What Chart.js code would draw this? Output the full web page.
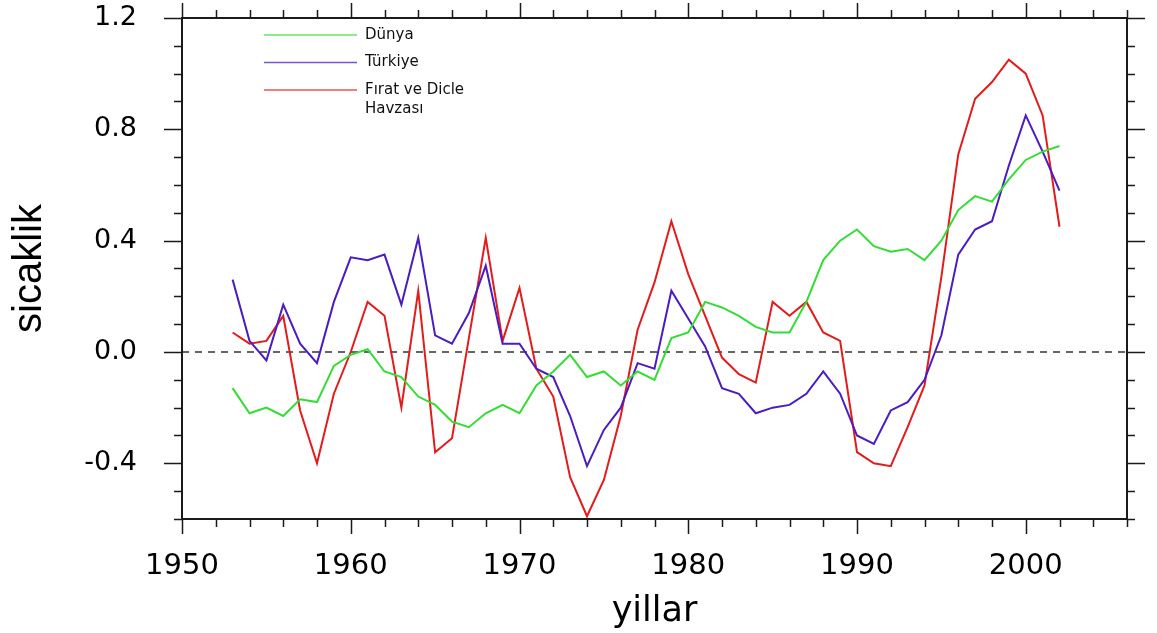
<!DOCTYPE html>
<html lang="tr">
<head>
<meta charset="utf-8">
<title>sicaklik / yillar</title>
<script src="https://cdn.jsdelivr.net/npm/chart.js@4.4.1/dist/chart.umd.min.js"></script>
<style>
  html, body { margin: 0; padding: 0; background: #fff; }
  #chart-wrap { position: relative; width: 1157px; height: 633px; }
</style>
</head>
<body>
<div id="chart-wrap"><canvas id="temp-chart"></canvas></div>
<script>
// Years on the x axis
const years = [
  1953, 1954, 1955, 1956, 1957, 1958, 1959, 1960, 1961, 1962,
  1963, 1964, 1965, 1966, 1967, 1968, 1969, 1970, 1971, 1972,
  1973, 1974, 1975, 1976, 1977, 1978, 1979, 1980, 1981, 1982,
  1983, 1984, 1985, 1986, 1987, 1988, 1989, 1990, 1991, 1992,
  1993, 1994, 1995, 1996, 1997, 1998, 1999, 2000, 2001, 2002
];

// Temperature anomalies
const dunya = [
  -0.13, -0.22, -0.20, -0.23, -0.17, -0.18, -0.05, -0.01, 0.01, -0.07,
  -0.09, -0.16, -0.19, -0.25, -0.27, -0.22, -0.19, -0.22, -0.12, -0.07,
  -0.01, -0.09, -0.07, -0.12, -0.07, -0.10, 0.05, 0.07, 0.18, 0.16,
  0.13, 0.09, 0.07, 0.07, 0.18, 0.33, 0.40, 0.44, 0.38, 0.36,
  0.37, 0.33, 0.40, 0.51, 0.56, 0.54, 0.62, 0.69, 0.72, 0.74
];
const turkiye = [
  0.26, 0.04, -0.03, 0.17, 0.03, -0.04, 0.18, 0.34, 0.33, 0.35,
  0.17, 0.41, 0.06, 0.03, 0.14, 0.31, 0.03, 0.03, -0.06, -0.09,
  -0.23, -0.41, -0.28, -0.20, -0.04, -0.06, 0.22, 0.12, 0.02, -0.13,
  -0.15, -0.22, -0.20, -0.19, -0.15, -0.07, -0.15, -0.30, -0.33, -0.21,
  -0.18, -0.10, 0.06, 0.35, 0.44, 0.47, 0.67, 0.85, 0.72, 0.58
];
const firatDicle = [
  0.07, 0.03, 0.04, 0.13, -0.21, -0.40, -0.15, 0.00, 0.18, 0.13,
  -0.20, 0.22, -0.36, -0.31, 0.05, 0.41, 0.04, 0.23, -0.06, -0.16,
  -0.45, -0.59, -0.46, -0.23, 0.08, 0.25, 0.47, 0.28, 0.13, -0.02,
  -0.08, -0.11, 0.18, 0.13, 0.18, 0.07, 0.04, -0.36, -0.40, -0.41,
  -0.27, -0.12, 0.27, 0.71, 0.91, 0.97, 1.05, 1.00, 0.85, 0.45
];

const seriesNames = ['Dünya', 'Türkiye', ['Fırat ve Dicle', 'Havzası']];
const seriesColors = ['#33dd33', '#4a1cc2', '#e41b1b'];

// Axis ranges and tick labels
const xRange = [1950, 2006];
const yRange = [-0.6, 1.2];
const xTickValues = [1950, 1960, 1970, 1980, 1990, 2000];
const yTickValues = [-0.4, 0.0, 0.4, 0.8, 1.2];
const xMinorStep = 2;
const yMinorStep = 0.1;

const MAJOR_TICK = 15;
const MINOR_TICK = 8;

function toPoints(values) {
  return values.map((v, i) => ({ x: years[i], y: v }));
}

/**
 * Frame around the plot with outward ticks on all four sides
 */
const frameTicks = {
  id: 'frameTicks',
  afterDatasetsDraw(chart) {
    const { ctx, chartArea: area, scales: { x, y } } = chart;
    ctx.save();
    ctx.strokeStyle = '#1a1a1a';
    ctx.lineWidth = 2;
    ctx.strokeRect(area.left, area.top, area.width, area.height);

    ctx.lineWidth = 1.5;
    ctx.beginPath();
    // x ticks (bottom and top)
    const nx = Math.round((xRange[1] - xRange[0]) / xMinorStep);
    for (let i = 0; i <= nx; i++) {
      const v = xRange[0] + i * xMinorStep;
      const px = Math.round(x.getPixelForValue(v)) + 0.5;
      const len = xTickValues.includes(v) ? MAJOR_TICK : MINOR_TICK;
      ctx.moveTo(px, area.bottom);
      ctx.lineTo(px, area.bottom + len);
      ctx.moveTo(px, area.top);
      ctx.lineTo(px, area.top - len);
    }
    // y ticks (left and right)
    const ny = Math.round((yRange[1] - yRange[0]) / yMinorStep);
    for (let i = 0; i <= ny; i++) {
      const v = yRange[0] + i * yMinorStep;
      const py = Math.round(y.getPixelForValue(v)) + 0.5;
      const isMajor = yTickValues.some(t => Math.abs(t - v) < 1e-6);
      const len = isMajor ? MAJOR_TICK + 3 : MINOR_TICK;
      ctx.moveTo(area.left, py);
      ctx.lineTo(area.left - len, py);
      ctx.moveTo(area.right, py);
      ctx.lineTo(area.right + len, py);
    }
    ctx.stroke();
    ctx.restore();
  },

  // Legend drawn inside the plot, top left
  afterDraw(chart) {
    const { ctx, chartArea: area } = chart;
    const lineStart = area.left + 82;
    const lineEnd = area.left + 175;
    ctx.save();
    ctx.font = '15px "DejaVu Sans", sans-serif';
    ctx.textBaseline = 'middle';
    ctx.textAlign = 'left';
    seriesNames.forEach((name, i) => {
      const rowY = area.top + 17 + i * 27.5;
      ctx.strokeStyle = seriesColors[i];
      ctx.globalAlpha = 0.75;
      ctx.lineWidth = 1.5;
      ctx.beginPath();
      ctx.moveTo(lineStart, rowY);
      ctx.lineTo(lineEnd, rowY);
      ctx.stroke();
      ctx.globalAlpha = 1;
      ctx.fillStyle = '#111';
      const lines = Array.isArray(name) ? name : [name];
      lines.forEach((text, j) => {
        ctx.fillText(text, lineEnd + 8, rowY + j * 19);
      });
    });
    ctx.restore();
  }
};

const datasets = [dunya, turkiye, firatDicle].map((values, i) => ({
  label: Array.isArray(seriesNames[i]) ? seriesNames[i].join(' ') : seriesNames[i],
  data: toPoints(values),
  borderColor: seriesColors[i],
  backgroundColor: seriesColors[i],
  borderWidth: 2,
  pointRadius: 0,
  tension: 0,
  order: i
}));

// Dashed zero reference line
datasets.push({
  label: 'sifir',
  data: [{ x: xRange[0], y: 0 }, { x: xRange[1], y: 0 }],
  borderColor: '#333',
  borderWidth: 1.6,
  borderDash: [7, 6],
  pointRadius: 0,
  order: 10
});

new Chart(document.getElementById('temp-chart'), {
  type: 'line',
  data: { datasets },
  options: {
    responsive: true,
    maintainAspectRatio: false,
    animation: false,
    layout: { padding: { top: 18, right: 30, left: 0, bottom: 0 } },
    plugins: {
      legend: { display: false },
      tooltip: { enabled: false }
    },
    scales: {
      x: {
        type: 'linear',
        position: 'bottom',
        min: xRange[0],
        max: xRange[1],
        afterBuildTicks: scale => {
          scale.ticks = xTickValues.map(v => ({ value: v }));
        },
        afterFit: scale => { scale.height = 114; },
        border: { display: false },
        grid: { drawOnChartArea: false, drawTicks: false },
        ticks: {
          autoSkip: false,
          maxRotation: 0,
          padding: 30,
          color: '#000',
          font: { family: '"DejaVu Sans", sans-serif', size: 29 },
          callback: v => String(v)
        },
        title: {
          display: true,
          text: 'yillar',
          color: '#000',
          padding: { top: 0, bottom: 0 },
          font: { family: '"DejaVu Sans", sans-serif', size: 35 }
        }
      },
      y: {
        min: yRange[0],
        max: yRange[1],
        afterBuildTicks: scale => {
          scale.ticks = yTickValues.map(v => ({ value: v }));
        },
        afterFit: scale => {
          // fixed left margin, no extra room above/below the plot
          scale.width = 182;
          scale.paddingTop = 0;
          scale.paddingBottom = 0;
        },
        border: { display: false },
        grid: { drawOnChartArea: false, drawTicks: false },
        ticks: {
          padding: 45,
          color: '#000',
          font: { family: '"DejaVu Sans", sans-serif', size: 27 },
          callback: v => Number(v).toFixed(1)
        },
        title: {
          display: true,
          text: 'sicaklik',
          color: '#000',
          padding: { top: 6, bottom: 0 },
          font: { family: '"Liberation Sans", sans-serif', size: 40 }
        }
      }
    }
  },
  plugins: [frameTicks]
});
</script>
</body>
</html>
